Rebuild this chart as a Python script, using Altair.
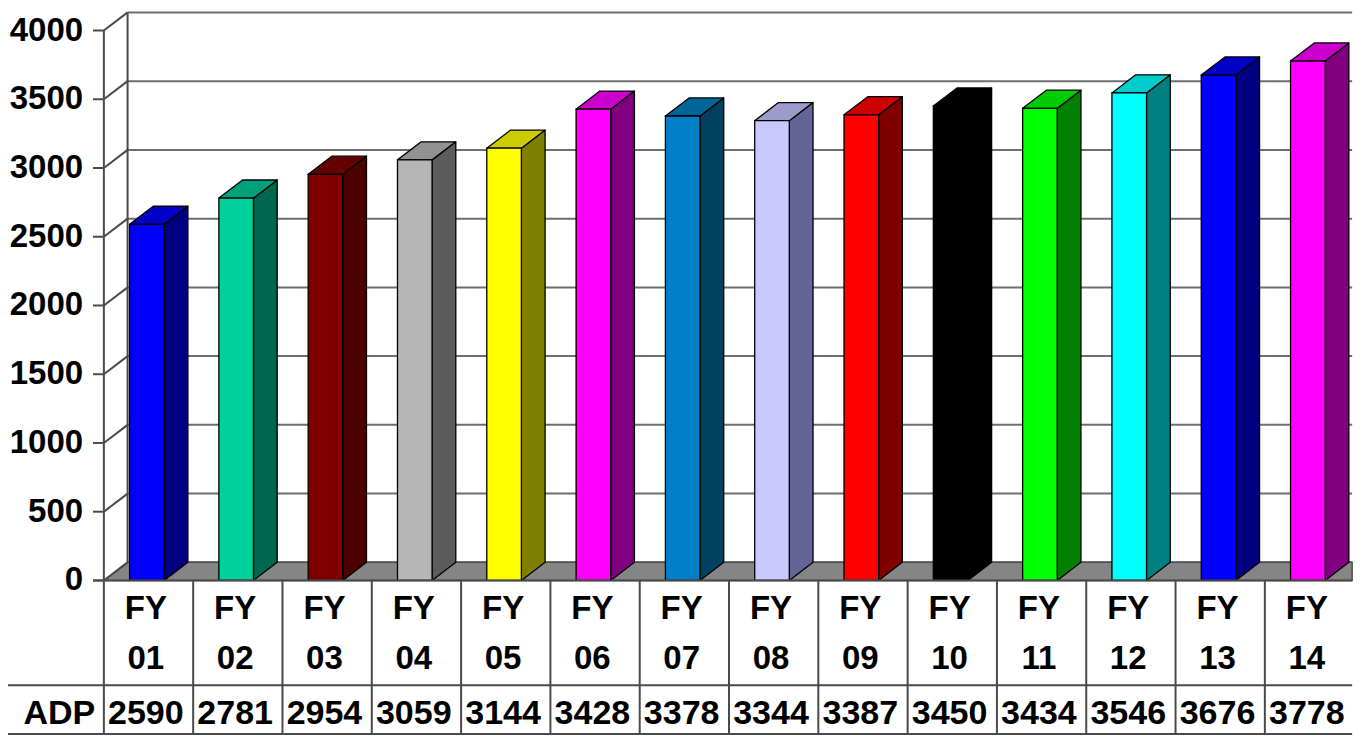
import altair as alt
import pandas as pd

# ---------------- data ----------------
fiscal_years = ["01", "02", "03", "04", "05", "06", "07", "08", "09", "10", "11", "12", "13", "14"]
adp = [2590, 2781, 2954, 3059, 3144, 3428, 3378, 3344, 3387, 3450, 3434, 3546, 3676, 3778]
y_ticks = [0, 500, 1000, 1500, 2000, 2500, 3000, 3500, 4000]
row_label = "ADP"
year_prefix = "FY"

# ---------------- styles ----------------
front_colors = ["#0000FF", "#00D09C", "#800000", "#B6B6B6", "#FFFF00", "#FF00FF", "#0080C8",
                "#C8C8FF", "#FF0000", "#000000", "#00FF00", "#00FFFF", "#0000FF", "#FF00FF"]
top_colors = ["#0000C8", "#00A07A", "#660000", "#929292", "#CCCC00", "#CC00CC", "#006699",
              "#9C9CCC", "#CC0000", "#000000", "#00CC00", "#00CCCC", "#0000C8", "#CC00CC"]
side_colors = ["#000080", "#006650", "#4C0000", "#5C5C5C", "#808000", "#800080", "#004060",
               "#646496", "#800000", "#000000", "#008000", "#008080", "#000080", "#800080"]
FONT = "Liberation Sans"

# ---------------- geometry (reference pixels -> scale units) ----------------
W, H = 1356, 730
COL_LEFT = 97.0
COL_W = 90.36
ZERO_PX = 585.0
PX_PER_UNIT = 562.0 / 4000.0
DXU = 24.0 / COL_W               # depth in category units
DYV = 18.5 / PX_PER_UNIT         # depth in value units


def ux(px):
    return (px - COL_LEFT) / COL_W


def vy(py):
    return (ZERO_PX - py) / PX_PER_UNIT


X_MIN, X_MAX = ux(0), ux(1372)
Y_MIN, Y_MAX = vy(746), vy(0)
X_END = ux(1360)
FL, FR = 26.0 / COL_W, 61.0 / COL_W
Y_ROW = vy(692)
Y_BOT = vy(742)

xs = alt.Scale(domain=[X_MIN, X_MAX], nice=False, zero=False)
ys = alt.Scale(domain=[Y_MIN, Y_MAX], nice=False, zero=False)


def X(f):
    return alt.X(f, type="quantitative", scale=xs, axis=None, stack=None)


def Y(f):
    return alt.Y(f, type="quantitative", scale=ys, axis=None, stack=None)


n = len(adp)
bars = pd.DataFrame({
    "i": list(range(n)),
    "value": adp,
    "base": [0] * n,
    "x0": [i + FL for i in range(n)],
    "x1": [i + FR for i in range(n)],
    "fc": front_colors,
})

top_rows, side_rows = [], []
for i, v in enumerate(adp):
    top_rows.append({"i": i, "yy": v, "xa": i + FL, "xb": i + FR, "c": top_colors[i]})
    top_rows.append({"i": i, "yy": v + DYV, "xa": i + FL + DXU, "xb": i + FR + DXU, "c": top_colors[i]})
    side_rows.append({"i": i, "xx": i + FR, "ya": 0, "yb": v, "c": side_colors[i]})
    side_rows.append({"i": i, "xx": i + FR + DXU, "ya": DYV, "yb": v + DYV, "c": side_colors[i]})
tops = pd.DataFrame(top_rows)
sides = pd.DataFrame(side_rows)

floor = pd.DataFrame({"yy": [0, DYV], "xa": [0, DXU], "xb": [X_END, X_END]})

grid = pd.DataFrame({"t": y_ticks,
                     "yb": [t + DYV for t in y_ticks],
                     "xa": [DXU] * len(y_ticks),
                     "xb": [X_END] * len(y_ticks),
                     "x0": [0.0] * len(y_ticks),
                     "xt": [ux(86)] * len(y_ticks),
                     "xl": [ux(76)] * len(y_ticks),
                     "lab": [str(t) for t in y_ticks]})

walls = pd.DataFrame({"x": [0.0, DXU], "y": [4000, DYV], "y2": [Y_BOT, 4000 + DYV]})

hlines = pd.DataFrame({"y": [0, Y_ROW, Y_BOT], "x": [ux(86), X_MIN, X_MIN], "x2": [X_END] * 3})
vlines = pd.DataFrame({"x": list(range(1, n)), "y": [0] * (n - 1), "y2": [Y_BOT] * (n - 1)})

labels = pd.DataFrame({
    "xc": [i + 0.47 for i in range(n)],
    "fy": [year_prefix] * n,
    "yr": fiscal_years,
    "val": [str(v) for v in adp],
    "y1": [vy(614)] * n,
    "y2": [vy(665)] * n,
    "y3": [vy(721)] * n,
})
row_df = pd.DataFrame({"x": [ux(52)], "y": [vy(721)], "t": [row_label]})

grid_color = "#6E6E6E"
line_color = "#4A4A4A"

l_grid = alt.Chart(grid).mark_rule(color=grid_color, strokeWidth=2).encode(
    x=X("xa"), x2="xb", y=Y("yb"))
l_diag = alt.Chart(grid).mark_rule(color=line_color, strokeWidth=2).encode(
    x=X("x0"), x2=alt.X2("xa"), y=Y("t"), y2=alt.Y2("yb"))
l_tick = alt.Chart(grid).mark_rule(color=line_color, strokeWidth=2).encode(
    x=X("xt"), x2=alt.X2("x0"), y=Y("t"))
l_walls = alt.Chart(walls).mark_rule(color=line_color, strokeWidth=2).encode(
    x=X("x"), y=Y("y"), y2="y2")
l_floor = alt.Chart(floor).mark_area(orient="horizontal", color="#858585", stroke="#505050",
                                     strokeWidth=1.5).encode(y=Y("yy"), x=X("xa"), x2="xb")
l_side = alt.Chart(sides).mark_area(stroke="black", strokeWidth=1.3, strokeJoin="round").encode(
    x=X("xx"), y=Y("ya"), y2="yb", detail="i:N", fill=alt.Fill("c:N", scale=None))
l_top = alt.Chart(tops).mark_area(orient="horizontal", stroke="black", strokeWidth=1.3,
                                  strokeJoin="round").encode(
    y=Y("yy"), x=X("xa"), x2="xb", detail="i:N", fill=alt.Fill("c:N", scale=None))
l_front = alt.Chart(bars).mark_rect(stroke="black", strokeWidth=1.3).encode(
    x=X("x0"), x2="x1", y=Y("base"), y2="value", fill=alt.Fill("fc:N", scale=None))
l_h = alt.Chart(hlines).mark_rule(color=line_color, strokeWidth=2).encode(
    x=X("x"), x2="x2", y=Y("y"))
l_v = alt.Chart(vlines).mark_rule(color=line_color, strokeWidth=2).encode(
    x=X("x"), y=Y("y"), y2="y2")

txt = dict(font=FONT, fontWeight="bold", color="black", baseline="middle")
l_ylab = alt.Chart(grid).mark_text(align="right", fontSize=33, **txt).encode(
    x=X("xl"), y=Y("t"), text="lab:N")
l_fy = alt.Chart(labels).mark_text(align="center", fontSize=33, **txt).encode(
    x=X("xc"), y=Y("y1"), text="fy:N")
l_yr = alt.Chart(labels).mark_text(align="center", fontSize=33, **txt).encode(
    x=X("xc"), y=Y("y2"), text="yr:N")
l_val = alt.Chart(labels).mark_text(align="center", fontSize=34, **txt).encode(
    x=X("xc"), y=Y("y3"), text="val:N")
l_row = alt.Chart(row_df).mark_text(align="center", fontSize=34, **txt).encode(
    x=X("x"), y=Y("y"), text="t:N")

chart = alt.layer(
    l_grid, l_floor, l_diag, l_tick, l_walls, l_side, l_top, l_front,
    l_h, l_v, l_ylab, l_fy, l_yr, l_val, l_row
).properties(
    width=W, height=H, padding=0, autosize=alt.AutoSizeParams(type="none")
).configure_view(stroke=None)

chart.save("out.html", embed_options={"renderer": "svg", "actions": False})
